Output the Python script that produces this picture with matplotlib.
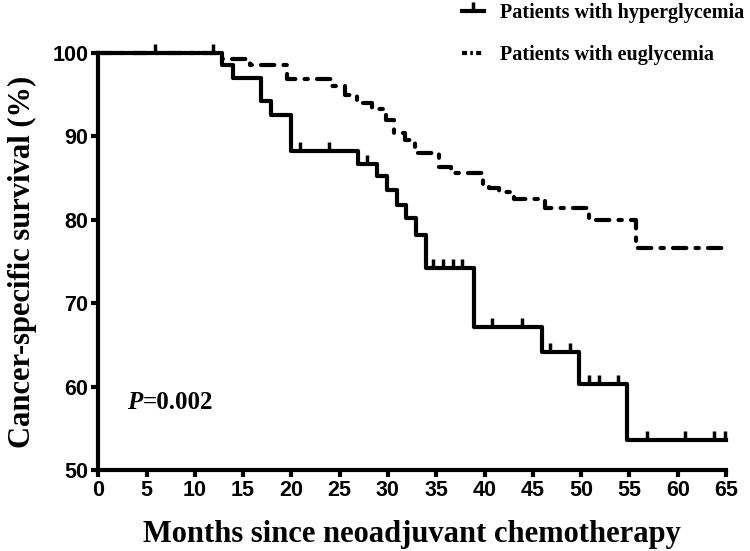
import numpy as np
import matplotlib.pyplot as plt
from matplotlib.lines import Line2D

plt.rcParams['font.family'] = 'Liberation Sans'
plt.rcParams['font.weight'] = 'bold'

# Kaplan-Meier steps (months, survival %)
hyper_t = [0, 12.8, 14.0, 16.9, 17.9, 20.0, 26.9, 28.9, 29.9, 30.9, 31.9, 32.9, 33.9, 38.9, 45.9, 49.8, 54.8, 65]
hyper_s = [100, 98.6, 97.0, 94.2, 92.6, 88.2, 86.7, 85.2, 83.6, 81.8, 80.2, 78.2, 74.2, 67.2, 64.2, 60.3, 53.6, 53.6]
hyper_cens = [5.9, 11.9, 20.9, 23.9, 27.8, 34.7, 35.7, 36.7, 37.7, 40.8, 43.9, 46.8, 48.8,
              50.8, 51.8, 53.8, 56.8, 60.8, 63.8, 64.9]

eu_t = [0, 12.8, 15.7, 19.5, 24.2, 25.5, 26.8, 28.3, 29.8, 30.6, 31.8, 32.8, 35.3, 36.5,
        39.8, 40.5, 41.5, 43.0, 46.3, 50.8, 55.7, 65]
eu_s = [100, 99.3, 98.5, 96.9, 96.0, 95.0, 94.0, 93.3, 92.0, 90.4, 89.6, 88.0, 86.3, 85.6,
        84.2, 83.8, 83.3, 82.5, 81.4, 80.0, 76.6, 76.6]

labels = ['Patients with hyperglycemia', 'Patients with euglycemia']
xticks = np.arange(0, 66, 5)
yticks = np.arange(50, 101, 10)


def surv_at(t, times, surv):
    i = np.searchsorted(times, t, side='right') - 1
    return surv[i]


fig = plt.figure(figsize=(7.5, 5.51), dpi=100)
ax = fig.add_axes([0.131, 0.147, 0.837, 0.757])

lw = 3.0
dash = (3.2, 2.2, 0.8, 2.2)
censor = [(0, 0), (0, 1)]

ax.step(hyper_t, hyper_s, where='post', color='black', lw=lw, clip_on=False, zorder=3)
cy = [surv_at(t, hyper_t, hyper_s) for t in hyper_cens]
ax.plot(hyper_cens, cy, ls='none', marker=censor, ms=13, mew=2.5, color='black',
        clip_on=False, zorder=3)

ax.step(eu_t, eu_s, where='post', color='black', lw=lw, dashes=dash,
        dash_capstyle='round', clip_on=False, zorder=3)

ax.set_xlim(0, 65)
ax.set_ylim(50, 100)
ax.set_xticks(xticks)
ax.set_yticks(yticks)
for s in ['top', 'right']:
    ax.spines[s].set_visible(False)
for s in ['left', 'bottom']:
    ax.spines[s].set_linewidth(3)
ax.tick_params(width=3, length=5, labelsize=15.5, pad=2)
for lab in ax.get_xticklabels() + ax.get_yticklabels():
    lab.set_fontweight('bold')

serif = 'Liberation Serif'
ax.set_xlabel('Months since neoadjuvant chemotherapy', family=serif, fontsize=22,
              fontweight='bold', labelpad=14)
ax.set_ylabel('Cancer-specific survival (%)', family=serif, fontsize=22,
              fontweight='bold', labelpad=11)

t1 = ax.text(3.0, 57.3, 'P', family=serif, style='italic', fontweight='bold', fontsize=18)
ax.annotate('=0.002', xy=(1, 0), xycoords=t1, va='bottom', family=serif,
            fontweight='bold', fontsize=18)

handles = [
    Line2D([], [], color='black', lw=lw, marker=censor, ms=13, mew=2.5),
    Line2D([], [], color='black', lw=lw, dashes=(1.2, 0.8, 0.6, 0.8)),
]
fig.legend(handles, labels, loc='upper left', bbox_to_anchor=(0.603, 1.013), frameon=False,
           prop={'family': serif, 'weight': 'bold', 'size': 14.5}, handlelength=1.1,
           handletextpad=0.75, labelspacing=1.1, numpoints=1, borderpad=0)

plt.savefig('out.png', dpi=100)
